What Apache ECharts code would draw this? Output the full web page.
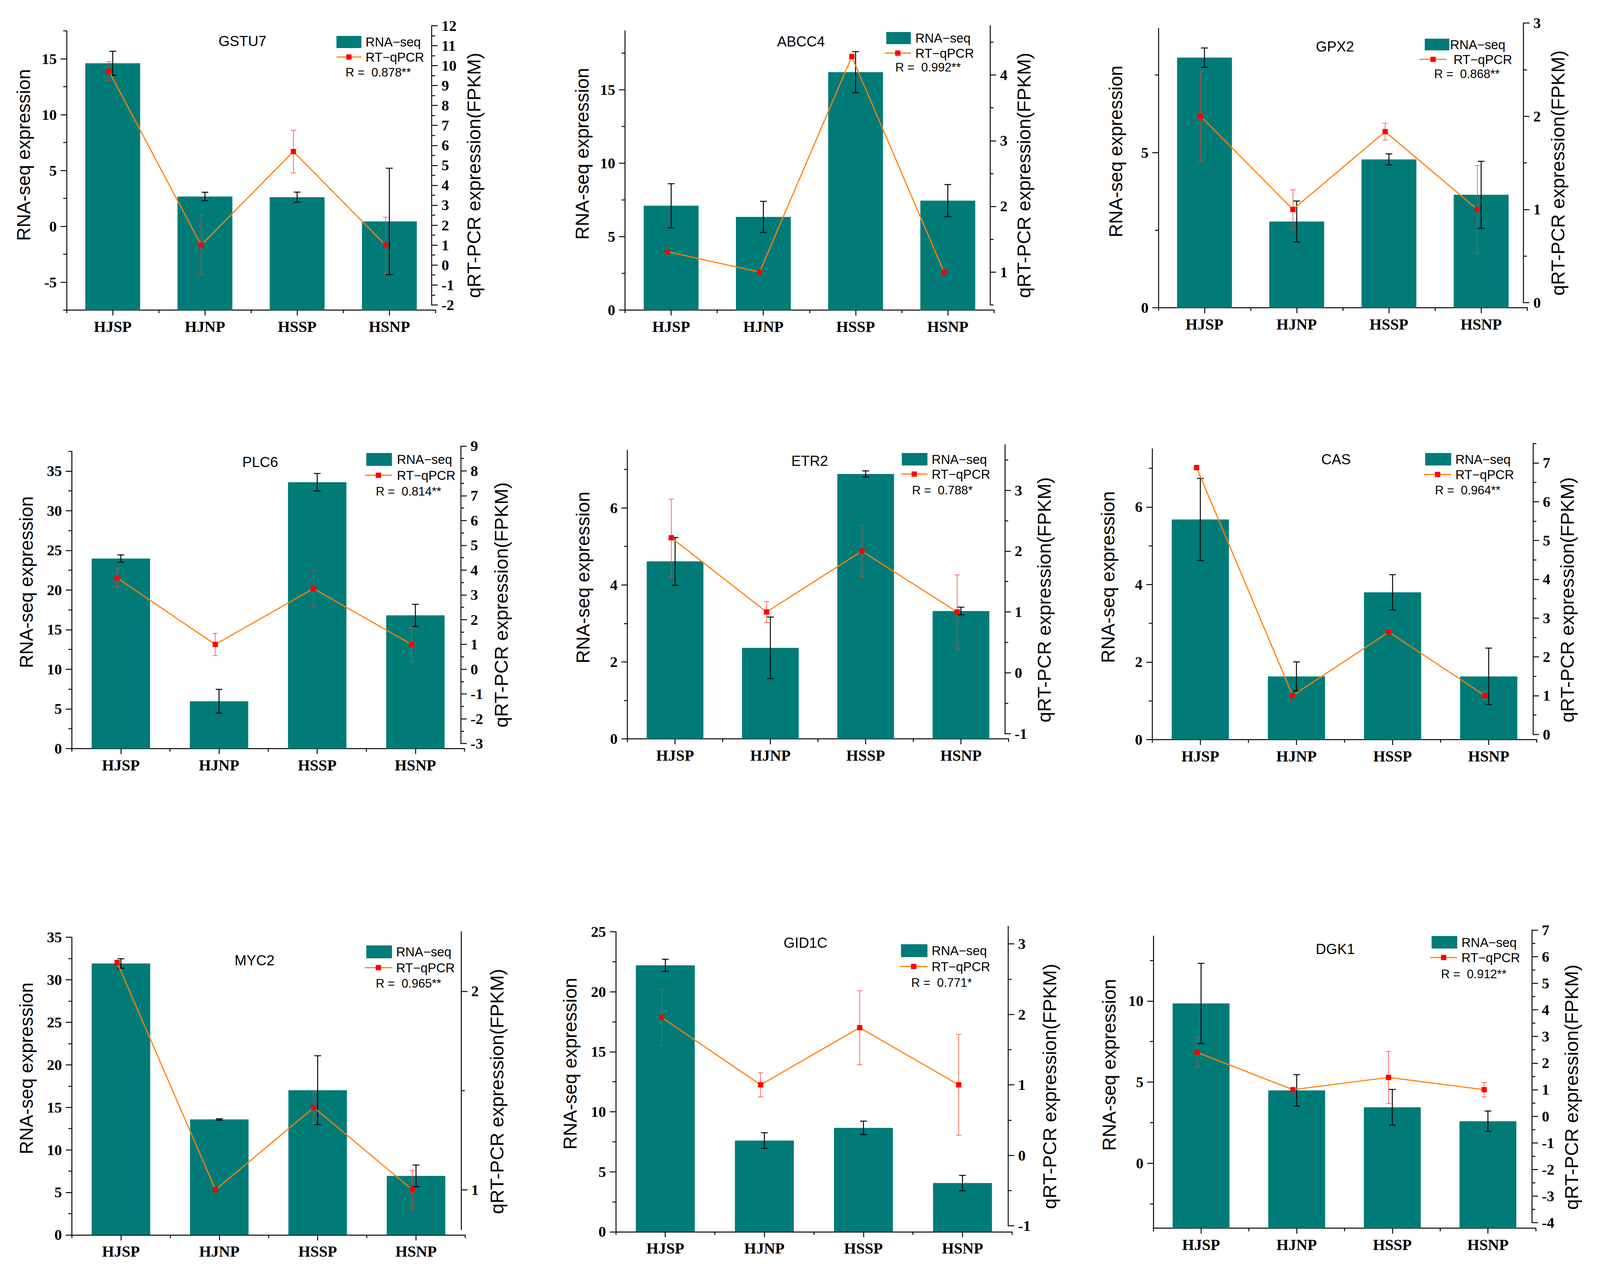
<!DOCTYPE html>
<html>
<head>
<meta charset="utf-8">
<title>RNA-seq vs qRT-PCR</title>
<script src="https://cdn.jsdelivr.net/npm/echarts@6/dist/echarts.min.js"></script>
<style>
html, body { margin: 0; padding: 0; background: #fff; overflow: hidden; }
#chart { width: 100vw; height: 100vh; }
</style>
</head>
<body>
<div id="chart"></div>
<script>
// ---- data ----
var categories = ['HJSP', 'HJNP', 'HSSP', 'HSNP'];
var genes = ['GSTU7', 'ABCC4', 'GPX2', 'PLC6', 'ETR2', 'CAS', 'MYC2', 'GID1C', 'DGK1'];
var rValues = ['R =  0.878**', 'R =  0.992**', 'R =  0.868**', 'R =  0.814**', 'R =  0.788*',
               'R =  0.964**', 'R =  0.965**', 'R =  0.771*', 'R =  0.912**'];

var GSTU7_rna = [14.6, 2.67, 2.61, 0.44],   GSTU7_rnaErr = [1.08, 0.38, 0.45, 4.76];
var GSTU7_qpcr = [9.72, 1.0, 5.69, 1.0],    GSTU7_qpcrErr = [0.47, 1.49, 1.07, 1.4];
var ABCC4_rna = [7.1, 6.34, 16.19, 7.45],   ABCC4_rnaErr = [1.5, 1.06, 1.4, 1.09];
var ABCC4_qpcr = [1.31, 1.0, 4.28, 1.0],    ABCC4_qpcrErr = [0, 0, 0, 0];
var GPX2_rna = [8.06, 2.78, 4.78, 3.64],    GPX2_rnaErr = [0.31, 0.66, 0.18, 1.08];
var GPX2_qpcr = [2.0, 1.0, 1.835, 1.0],     GPX2_qpcrErr = [0.48, 0.21, 0.09, 0.47];
var PLC6_rna = [23.97, 5.97, 33.6, 16.8],   PLC6_rnaErr = [0.46, 1.5, 1.1, 1.4];
var PLC6_qpcr = [3.68, 1.0, 3.25, 1.0],     PLC6_qpcrErr = [0.37, 0.45, 0.73, 0.7];
var ETR2_rna = [4.61, 2.365, 6.88, 3.32],   ETR2_rnaErr = [0.62, 0.8, 0.08, 0.1];
var ETR2_qpcr = [2.22, 1.0, 2.0, 1.0],      ETR2_qpcrErr = [0.635, 0.17, 0.42, 0.61];
var CAS_rna = [5.68, 1.63, 3.8, 1.63],      CAS_rnaErr = [1.06, 0.375, 0.455, 0.73];
var CAS_qpcr = [6.88, 1.0, 2.64, 1.0],      CAS_qpcrErr = [0, 0, 0, 0.1];
var MYC2_rna = [31.92, 13.58, 17.02, 6.94], MYC2_rnaErr = [0.56, 0.08, 4.05, 1.27];
var MYC2_qpcr = [2.145, 1.0, 1.414, 1.0],   MYC2_qpcrErr = [0.01, 0, 0.08, 0.097];
var GID1C_rna = [22.2, 7.6, 8.66, 4.06],    GID1C_rnaErr = [0.51, 0.65, 0.56, 0.64];
var GID1C_qpcr = [1.957, 1.0, 1.811, 1.0],  GID1C_qpcrErr = [0.4, 0.17, 0.525, 0.715];
var DGK1_rna = [9.85, 4.49, 3.45, 2.59],    DGK1_rnaErr = [2.47, 0.97, 1.1, 0.63];
var DGK1_qpcr = [2.4, 1.0, 1.46, 1.0],      DGK1_qpcrErr = [0.55, 0, 0.98, 0.27];

// axis extents and labelled ticks (left = RNA-seq, right = qRT-PCR)
var GSTU7_leftRange = [-7.5, 17.5], GSTU7_leftTicks = [-5, 0, 5, 10, 15];
var GSTU7_rightRange = [-2, 12],    GSTU7_rightTicks = [-2, -1, 0, 1, 2, 3, 4, 5, 6, 7, 8, 9, 10, 11, 12];
var ABCC4_leftRange = [0, 19],      ABCC4_leftTicks = [0, 5, 10, 15];
var ABCC4_rightRange = [0.5, 4.75], ABCC4_rightTicks = [1, 2, 3, 4];
var GPX2_leftRange = [0, 9],        GPX2_leftTicks = [0, 5];
var GPX2_rightRange = [0, 3],       GPX2_rightTicks = [0, 1, 2, 3];
var PLC6_leftRange = [0, 37.5],     PLC6_leftTicks = [0, 5, 10, 15, 20, 25, 30, 35];
var PLC6_rightRange = [-3, 9],      PLC6_rightTicks = [-3, -2, -1, 0, 1, 2, 3, 4, 5, 6, 7, 8, 9];
var ETR2_leftRange = [0, 7.5],      ETR2_leftTicks = [0, 2, 4, 6];
var ETR2_rightRange = [-1, 3.75],   ETR2_rightTicks = [-1, 0, 1, 2, 3];
var CAS_leftRange = [0, 7.5],       CAS_leftTicks = [0, 2, 4, 6];
var CAS_rightRange = [0, 7.5],      CAS_rightTicks = [0, 1, 2, 3, 4, 5, 6, 7];
var MYC2_leftRange = [0, 35],       MYC2_leftTicks = [0, 5, 10, 15, 20, 25, 30, 35];
var MYC2_rightRange = [0.8, 2.3],   MYC2_rightTicks = [1, 2];
var GID1C_leftRange = [0, 25],      GID1C_leftTicks = [0, 5, 10, 15, 20, 25];
var GID1C_rightRange = [-1, 3.25],  GID1C_rightTicks = [-1, 0, 1, 2, 3];
var DGK1_leftRange = [-4, 14],      DGK1_leftTicks = [0, 5, 10];
var DGK1_rightRange = [-4, 7],      DGK1_rightTicks = [-4, -3, -2, -1, 0, 1, 2, 3, 4, 5, 6, 7];

// ---- page layout, in pixels of a 4237 x 3265 page ----
var layout = [
  {gL: 176.4, gR: 1153.2, gT: 79.1, gB: 794, rT: 65.9, rB: 780.8, title: [642, 105], box: [891, 92, 957, 123], t1x: 968, lineX: [891, 957], lineY: 146, t2x: 968, R: [915, 185], lName: [63, 397], rName: [1255, 449]},
  {gL: 1655.2, gR: 2632, gT: 79.1, gB: 794, rT: 65.9, rB: 780.8, title: [2121, 106], box: [2347, 82, 2412, 113], t1x: 2424, lineX: [2343, 2412], lineY: 136, t2x: 2424, R: [2371, 172], lName: [1542, 394], rName: [2711, 449]},
  {gL: 3067.5, gR: 4044.4, gT: 72.8, gB: 788.2, rT: 59, rB: 775, title: [3535, 119], box: [3773, 99, 3838, 129], t1x: 3840, lineX: [3759, 3831], lineY: 152, t2x: 3849, R: [3798, 189], lName: [2955, 388], rName: [4125, 443]},
  {gL: 190, gR: 1230, gT: 1155.6, gB: 1916.9, rT: 1142.3, rB: 1904.2, title: [689, 1183], box: [970, 1160, 1038, 1193], t1x: 1051, lineX: [966, 1038], lineY: 1217, t2x: 1051, R: [995, 1258], lName: [70, 1491], rName: [1327, 1549]},
  {gL: 1661.5, gR: 2670.9, gT: 1152.6, gB: 1892.1, rT: 1138.7, rB: 1878.7, title: [2144, 1180], box: [2388, 1160, 2456, 1192], t1x: 2467, lineX: [2386, 2456], lineY: 1214, t2x: 2467, R: [2415, 1255], lName: [1544, 1479], rName: [2765, 1536]},
  {gL: 3051.4, gR: 4069.5, gT: 1149.6, gB: 1893.9, rT: 1135.7, rB: 1880.6, title: [3538, 1176], box: [3774, 1160, 3843, 1192], t1x: 3854, lineX: [3771, 3843], lineY: 1215, t2x: 3854, R: [3800, 1255], lName: [2934, 1478], rName: [4150, 1536]},
  {gL: 190, gR: 1231.9, gT: 2400.2, gB: 3162.3, rT: 2386, rB: 3148.2, title: [674, 2459], box: [970, 2421, 1038, 2454], t1x: 1049, lineX: [966, 1038], lineY: 2478, t2x: 1049, R: [995, 2518], lName: [70, 2736], rName: [1316, 2795]},
  {gL: 1630.7, gR: 2680, gT: 2386, gB: 3154.3, rT: 2371.9, rB: 3139, title: [2133, 2414], box: [2386, 2418, 2456, 2451], t1x: 2467, lineX: [2383, 2456], lineY: 2475, t2x: 2467, R: [2413, 2516], lName: [1510, 2724], rName: [2779, 2782]},
  {gL: 3054, gR: 4066.8, gT: 2397.1, gB: 3145.1, rT: 2381.7, rB: 3131, title: [3536, 2430], box: [3791, 2397, 3859, 2429], t1x: 3870, lineX: [3787, 3859], lineY: 2452, t2x: 3870, R: [3816, 2494], lName: [2937, 2727], rName: [4162, 2784]}
];

var TEAL = '#007B78', ORANGE = '#FF8000', RED = '#FF0000', ERR_RED = '#FF3B1F';
var SANS = 'Liberation Sans', SERIF = 'Liberation Serif';

var chartDom = document.getElementById('chart');
// the viewport may be narrower than the 4237 px design: map x and y separately
var sx = chartDom.clientWidth / 4237, sy = chartDom.clientHeight / 3265;
var s = Math.min(sx, sy);
function SX(v) { return v * sx; }
function SY(v) { return v * sy; }
function S(v) { return v * s; }

var panels = genes.map(function (g, i) {
  return {
    name: g, r: rValues[i], box: layout[i],
    rna: window[g + '_rna'], rnaErr: window[g + '_rnaErr'],
    qpcr: window[g + '_qpcr'], qpcrErr: window[g + '_qpcrErr'],
    leftRange: window[g + '_leftRange'], leftTicks: window[g + '_leftTicks'],
    rightRange: window[g + '_rightRange'], rightTicks: window[g + '_rightTicks']
  };
});

function minorValues(range, ticks) {
  var step = (ticks[1] - ticks[0]) / 2, out = [];
  for (var k = Math.ceil(range[0] / step - 1e-9); k * step <= range[1] + 1e-9; k++) {
    var v = +(k * step).toFixed(6);
    if (ticks.indexOf(v) < 0) out.push(v);
  }
  return out;
}

function errorData(vals, errs) {
  return vals.map(function (v, k) { return [k, v - errs[k], v + errs[k]]; });
}

function errorBars(color, width, cap) {
  return function (params, api) {
    var lo = api.value(1), hi = api.value(2);
    if (hi - lo < 1e-9) return null;
    var a = api.coord([api.value(0), hi]), b = api.coord([api.value(0), lo]);
    var st = {stroke: color, lineWidth: width};
    return {type: 'group', children: [
      {type: 'line', shape: {x1: a[0], y1: a[1], x2: b[0], y2: b[1]}, style: st},
      {type: 'line', shape: {x1: a[0] - cap / 2, y1: a[1], x2: a[0] + cap / 2, y2: a[1]}, style: st},
      {type: 'line', shape: {x1: b[0] - cap / 2, y1: b[1], x2: b[0] + cap / 2, y2: b[1]}, style: st}
    ]};
  };
}

function txt(x, y, text, size, align, rot) {
  return {type: 'text', x: SX(x), y: SY(y), rotation: rot || 0, silent: true,
    style: {text: text, fontFamily: SANS, fontSize: size, fill: '#000',
      align: align, verticalAlign: 'middle', textAlign: align, textVerticalAlign: 'middle'}};
}

var tickStyle = {color: '#000', width: S(2.5)};
var tickLabel = {fontFamily: SERIF, fontWeight: 'bold', fontSize: S(40), color: '#000', margin: SX(26)};
var LINE_SHIFT = 10; // qRT-PCR points sit slightly left of the bar centres

var grid = [], xAxis = [], yAxis = [], series = [], graphic = [];

panels.forEach(function (p, i) {
  var b = p.box;
  grid.push({left: SX(b.gL), top: SY(b.gT), width: SX(b.gR - b.gL), height: SY(b.gB - b.gT), containLabel: false, outerBoundsMode: 'none'});
  grid.push({left: SX(b.gL - LINE_SHIFT), top: SY(b.rT), width: SX(b.gR - b.gL), height: SY(b.rB - b.rT), containLabel: false, outerBoundsMode: 'none'});

  xAxis.push({
    type: 'category', gridIndex: 2 * i, data: categories, position: 'bottom',
    axisLine: {show: true, onZero: false, lineStyle: {color: '#000', width: S(2.5)}},
    axisTick: {show: true, alignWithLabel: true, interval: 0, length: SY(14), lineStyle: tickStyle},
    axisLabel: {interval: 0, margin: SY(23), fontFamily: SERIF, fontWeight: 'bold', fontSize: S(41), color: '#000'},
    splitLine: {show: false}
  });
  xAxis.push({
    type: 'category', gridIndex: 2 * i, data: categories, position: 'bottom',
    axisLine: {show: false, onZero: false},
    axisTick: {show: true, alignWithLabel: false, interval: 0, length: SY(8), lineStyle: tickStyle},
    axisLabel: {show: false}, splitLine: {show: false}
  });
  xAxis.push({type: 'category', gridIndex: 2 * i + 1, data: categories, show: false});

  yAxis.push({
    type: 'value', gridIndex: 2 * i, position: 'left',
    min: p.leftRange[0], max: p.leftRange[1], startValue: p.leftRange[0],
    axisLine: {show: true, onZero: false, lineStyle: {color: '#000', width: S(2.5)}},
    axisTick: {show: true, length: SX(16), lineStyle: tickStyle, customValues: p.leftTicks},
    axisLabel: Object.assign({customValues: p.leftTicks}, tickLabel),
    splitLine: {show: false}
  });
  yAxis.push({
    type: 'value', gridIndex: 2 * i, position: 'left',
    min: p.leftRange[0], max: p.leftRange[1],
    axisLine: {show: false, onZero: false},
    axisTick: {show: true, length: SX(9), lineStyle: tickStyle, customValues: minorValues(p.leftRange, p.leftTicks)},
    axisLabel: {show: false}, splitLine: {show: false}
  });
  yAxis.push({
    type: 'value', gridIndex: 2 * i + 1, position: 'right',
    min: p.rightRange[0], max: p.rightRange[1],
    axisLine: {show: true, onZero: false, lineStyle: {color: '#000', width: S(2.5)}},
    axisTick: {show: true, length: SX(16), lineStyle: tickStyle, customValues: p.rightTicks},
    axisLabel: Object.assign({customValues: p.rightTicks}, tickLabel),
    splitLine: {show: false}
  });
  yAxis.push({
    type: 'value', gridIndex: 2 * i + 1, position: 'right',
    min: p.rightRange[0], max: p.rightRange[1],
    axisLine: {show: false, onZero: false},
    axisTick: {show: true, length: SX(9), lineStyle: tickStyle, customValues: minorValues(p.rightRange, p.rightTicks)},
    axisLabel: {show: false}, splitLine: {show: false}
  });

  series.push({
    name: 'RNA-seq', type: 'bar', xAxisIndex: 3 * i, yAxisIndex: 4 * i,
    data: p.rna, barWidth: '59.5%', itemStyle: {color: TEAL}, z: 2
  });
  series.push({
    type: 'custom', xAxisIndex: 3 * i, yAxisIndex: 4 * i,
    data: errorData(p.rna, p.rnaErr), encode: {x: 0, y: [1, 2]},
    renderItem: errorBars('#000', S(2.5), SX(18)), z: 3
  });
  series.push({
    type: 'custom', xAxisIndex: 3 * i + 2, yAxisIndex: 4 * i + 2,
    data: errorData(p.qpcr, p.qpcrErr), encode: {x: 0, y: [1, 2]},
    renderItem: errorBars(ERR_RED, S(1.5), SX(14)), z: 4
  });
  series.push({
    name: 'RT-qPCR', type: 'line', xAxisIndex: 3 * i + 2, yAxisIndex: 4 * i + 2,
    data: p.qpcr, symbol: 'rect', symbolSize: S(14), showAllSymbol: true,
    itemStyle: {color: RED}, lineStyle: {color: ORANGE, width: S(3)}, z: 5
  });

  // gene name, legend and correlation text
  graphic.push(txt(b.title[0], b.title[1], p.name, S(38), 'center'));
  graphic.push({type: 'rect', silent: true,
    shape: {x: SX(b.box[0]), y: SY(b.box[1]), width: SX(b.box[2] - b.box[0]), height: SY(b.box[3] - b.box[1])},
    style: {fill: TEAL}});
  graphic.push(txt(b.t1x, (b.box[1] + b.box[3]) / 2, 'RNA\u2212seq', S(34), 'left'));
  graphic.push({type: 'line', silent: true,
    shape: {x1: SX(b.lineX[0]), y1: SY(b.lineY), x2: SX(b.lineX[1]), y2: SY(b.lineY)},
    style: {stroke: ORANGE, lineWidth: S(3)}});
  graphic.push({type: 'rect', silent: true,
    shape: {x: SX((b.lineX[0] + b.lineX[1]) / 2) - S(7), y: SY(b.lineY) - S(7), width: S(14), height: S(14)},
    style: {fill: RED}});
  graphic.push(txt(b.t2x, b.lineY, 'RT\u2212qPCR', S(34), 'left'));
  graphic.push(txt(b.R[0], b.R[1], p.r, S(32), 'left'));

  // axis titles run vertically, so their length follows the y scale
  graphic.push(txt(b.lName[0], b.lName[1], 'RNA-seq expression', SY(48), 'center', Math.PI / 2));
  graphic.push(txt(b.rName[0], b.rName[1], 'qRT-PCR expression(FPKM)', SY(49), 'center', Math.PI / 2));
});

var myChart = echarts.init(chartDom, null, {renderer: 'svg'});
myChart.setOption({
  backgroundColor: '#fff',
  animation: false,
  grid: grid,
  xAxis: xAxis,
  yAxis: yAxis,
  series: series,
  graphic: graphic
});
</script>
</body>
</html>
